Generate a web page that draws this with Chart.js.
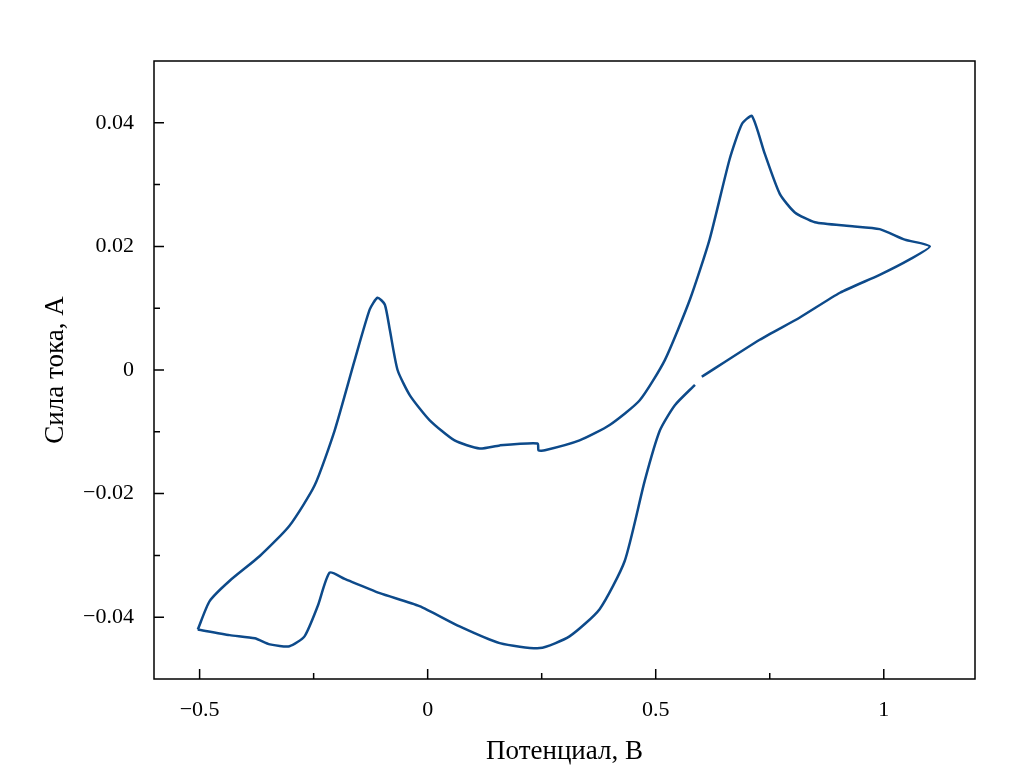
<!DOCTYPE html>
<html>
<head>
<meta charset="utf-8">
<script src="https://cdn.jsdelivr.net/npm/chart.js@4"></script>
<style>
  html, body { margin: 0; padding: 0; background: #fff; }
  #wrap { width: 1026px; height: 772px; }
</style>
</head>
<body>
<div id="wrap"><canvas id="cv"></canvas></div>
<script>
// Sweep starting just after the gap near 0.6 V, going to 1.1 V and back to -0.5 V
const sweep1X = [0.601, 0.728, 0.816, 0.904, 0.991, 1.057, 1.101,
  1.046, 0.991, 0.925, 0.849, 0.805, 0.772, 0.739, 0.711, 0.689, 0.662, 0.618, 0.575, 0.520, 0.465, 0.399, 0.333,
  0.257, 0.243, 0.241, 0.158, 0.114, 0.059, 0.004, -0.039, -0.066, -0.083, -0.094, -0.110, -0.127, -0.160, -0.204,
  -0.248, -0.303, -0.368, -0.434, -0.478, -0.504];
const sweep1Y = [-0.0011, 0.0049, 0.0085, 0.0125, 0.0154, 0.0179, 0.0200,
  0.0211, 0.0228, 0.0233, 0.0239, 0.0255, 0.0285, 0.0350, 0.0411, 0.0398, 0.0341, 0.0211, 0.0114, 0.0016, -0.0049, -0.0089, -0.0114,
  -0.0130, -0.0130, -0.0119, -0.0122, -0.0127, -0.0114, -0.0081, -0.0041, 0.0000, 0.0065, 0.0106, 0.0117, 0.0098, 0.0016, -0.0098,
  -0.0187, -0.0252, -0.0301, -0.0341, -0.0374, -0.0420];
// Return sweep from -0.5 V back up to just before the gap
const sweep2X = [-0.504, -0.434, -0.379, -0.346, -0.303, -0.270, -0.241, -0.215, -0.182, -0.105, -0.018, 0.070, 0.158,
  0.246, 0.311, 0.377, 0.432, 0.476, 0.509, 0.542, 0.586];
const sweep2Y = [-0.0420, -0.0429, -0.0434, -0.0444, -0.0447, -0.0431, -0.0382, -0.0328, -0.0338, -0.0361, -0.0382, -0.0415, -0.0442,
  -0.0450, -0.0431, -0.0387, -0.0309, -0.0179, -0.0098, -0.0057, -0.0024];

const xTicks = [-0.5, 0, 0.5, 1];
const xMinor = [-0.25, 0.25, 0.75];
const yTicks = [-0.04, -0.02, 0, 0.02, 0.04];
const yMinor = [-0.03, -0.01, 0.01, 0.03];

const lineColor = '#0d4a8a';
const fmt = v => v === 0 ? '0' : (v < 0 ? '\u2212' + String(-v) : String(v));
const toPts = (xs, ys) => xs.map((x, i) => ({ x: x, y: ys[i] }));

const frame = {
  id: 'frame',
  afterDraw(chart) {
    const { ctx, chartArea: a, scales: { x, y } } = chart;
    ctx.save();
    ctx.strokeStyle = '#000';
    ctx.lineWidth = 1.5;
    ctx.strokeRect(a.left, a.top, a.right - a.left, a.bottom - a.top);
    ctx.beginPath();
    const tick = (list, len) => {
      list.forEach(v => {
        const px = x.getPixelForValue(v);
        ctx.moveTo(px, a.bottom); ctx.lineTo(px, a.bottom - len);
      });
    };
    const tickY = (list, len) => {
      list.forEach(v => {
        const py = y.getPixelForValue(v);
        ctx.moveTo(a.left, py); ctx.lineTo(a.left + len, py);
      });
    };
    tick(xTicks, 10); tick(xMinor, 6);
    tickY(yTicks, 10); tickY(yMinor, 6);
    ctx.stroke();
    ctx.restore();
  }
};

new Chart(document.getElementById('cv'), {
  type: 'scatter',
  data: {
    datasets: [
      { data: toPts(sweep1X, sweep1Y), showLine: true, borderColor: lineColor, borderWidth: 2.5, pointRadius: 0, tension: 0.2 },
      { data: toPts(sweep2X, sweep2Y), showLine: true, borderColor: lineColor, borderWidth: 2.5, pointRadius: 0, tension: 0.2 }
    ]
  },
  options: {
    responsive: true,
    maintainAspectRatio: false,
    animation: false,
    layout: { padding: { top: 61, right: 51, left: 0, bottom: 0 } },
    plugins: { legend: { display: false }, tooltip: { enabled: false } },
    scales: {
      x: {
        type: 'linear', min: -0.6, max: 1.2,
        afterBuildTicks: s => { s.ticks = xTicks.map(v => ({ value: v })); },
        afterFit: s => { s.height = 93; },
        grid: { display: false },
        border: { display: false },
        ticks: { callback: fmt, color: '#000', padding: 10, maxRotation: 0, font: { family: 'Liberation Serif', size: 22 } },
        title: { display: true, text: 'Потенциал, В', color: '#000', padding: { top: 0 }, font: { family: 'Liberation Serif', size: 27 } }
      },
      y: {
        type: 'linear', min: -0.05, max: 0.05,
        afterBuildTicks: s => { s.ticks = yTicks.map(v => ({ value: v })); },
        afterFit: s => { s.width = 154; },
        grid: { display: false },
        border: { display: false },
        ticks: { callback: fmt, color: '#000', padding: 12, font: { family: 'Liberation Serif', size: 22 } },
        title: { display: true, text: 'Сила тока, А', color: '#000', padding: { top: 40, bottom: 0 }, font: { family: 'Liberation Serif', size: 27 } }
      }
    }
  },
  plugins: [frame]
});
</script>
</body>
</html>
